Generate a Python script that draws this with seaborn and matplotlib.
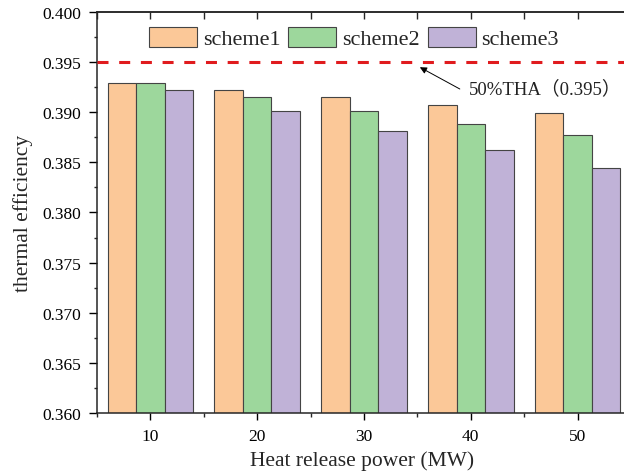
import numpy as np
import pandas as pd
import matplotlib
matplotlib.use("Agg")
import matplotlib.pyplot as plt
from matplotlib.ticker import FixedLocator, MultipleLocator, FormatStrFormatter
import seaborn as sns

# ---- data ----
powers = ["10", "20", "30", "40", "50"]
schemes = ["scheme1", "scheme2", "scheme3"]
scheme1 = [0.3929, 0.3922, 0.3915, 0.3907, 0.3899]
scheme2 = [0.3929, 0.3915, 0.3901, 0.3888, 0.3877]
scheme3 = [0.3922, 0.3901, 0.3881, 0.3862, 0.3844]
tha_value = 0.395
tha_label = "50%THA（0.395）"
colors = ["#FBC898", "#9DD79C", "#C0B2D7"]

df = pd.DataFrame({
    "power": powers * 3,
    "scheme": [schemes[0]] * 5 + [schemes[1]] * 5 + [schemes[2]] * 5,
    "eff": scheme1 + scheme2 + scheme3,
})

sns.set_style("ticks")
plt.rcParams["font.family"] = ["Liberation Serif", "Noto Sans CJK SC"]
plt.rcParams["axes.linewidth"] = 1.1

fig = plt.figure(figsize=(6.24, 4.77), dpi=100)
W, H = 624, 477
ax = fig.add_axes([97 / W, 1 - 414 / H, 534 / W, 401 / H])

sns.barplot(data=df, x="power", y="eff", hue="scheme", order=powers,
            hue_order=schemes, palette=colors, edgecolor="#444444",
            linewidth=0.8, saturation=1, legend=False, ax=ax)

ax.set_xlim(-0.5, 4.5)
ax.set_ylim(0.36, 0.40)

ax.axhline(tha_value, color="#E01B1E", lw=2.2, dashes=(3.6, 3.5), zorder=3)

# ticks
ax.yaxis.set_major_locator(MultipleLocator(0.005))
ax.yaxis.set_minor_locator(MultipleLocator(0.0025))
ax.yaxis.set_major_formatter(FormatStrFormatter("%.3f"))
ax.xaxis.set_minor_locator(FixedLocator([i - 0.5 for i in range(6)]))
ax.tick_params(axis="y", which="major", direction="out", length=5.8, width=1.0,
               labelsize=12.5, pad=5.3, colors="black")
ax.tick_params(axis="y", which="minor", direction="out", length=2.2, width=1.0)
ax.tick_params(axis="x", which="major", direction="out", length=5.0, width=1.0,
               labelsize=12.5, pad=5.5, colors="black")
ax.tick_params(axis="x", which="minor", direction="out", length=2.9, width=1.0)

sec_x = ax.secondary_xaxis("top")
sec_x.set_xticks(range(5))
sec_x.set_xticklabels([])
sec_x.xaxis.set_minor_locator(FixedLocator([i - 0.5 for i in range(6)]))
sec_x.tick_params(which="both", direction="in", length=5.0, width=1.0)

sec_y = ax.secondary_yaxis("right")
sec_y.yaxis.set_major_locator(MultipleLocator(0.005))
sec_y.set_yticklabels([])
sec_y.tick_params(which="both", direction="in", length=5.0, width=1.0)

ax.set_xlabel("Heat release power (MW)", fontsize=15.5)
ax.set_ylabel("thermal efficiency", fontsize=15.5)
ax.xaxis.set_label_coords(0.497, -0.092)
ax.yaxis.set_label_coords(-0.12, 0.5)

# annotation
ax.annotate("", xy=(2.523, 0.39449), xytext=(2.897, 0.39232),
            arrowprops=dict(arrowstyle="-|>", color="black", lw=0.7,
                            mutation_scale=10, shrinkA=0, shrinkB=0))
ax.text(2.985, 0.39239, tha_label, fontsize=13.5, ha="left", va="center",
        color="#222222")

# legend
ax.legend(ax.containers, schemes, loc="center left",
          bbox_to_anchor=((137.7 - 97) / 534, (414 - 39) / 401),
          ncol=3, frameon=False, fontsize=16, borderpad=0,
          handlelength=2.16, handleheight=1.04, handletextpad=0.27,
          columnspacing=0.35)

fig.savefig("out.png", dpi=100)
